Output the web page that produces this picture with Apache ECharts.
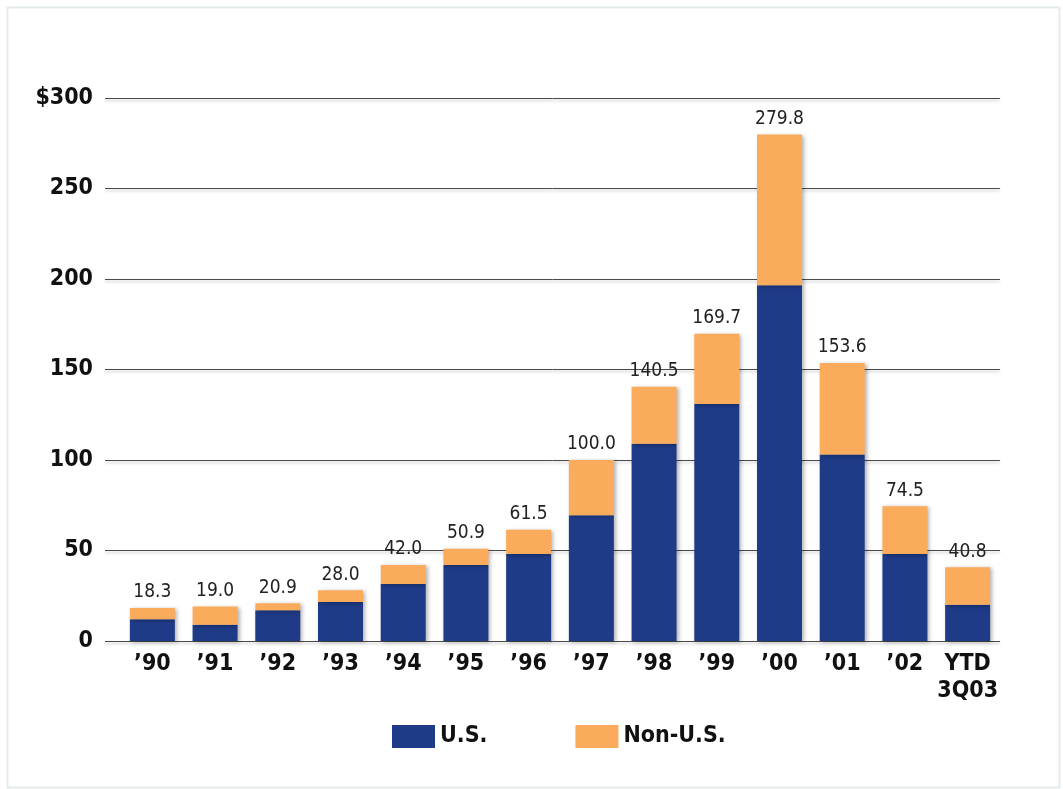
<!DOCTYPE html>
<html>
<head>
<meta charset="utf-8">
<script src="https://cdn.jsdelivr.net/npm/echarts@6/dist/echarts.min.js"></script>
<style>
  html, body { margin: 0; padding: 0; background: #ffffff; }
  #chart { width: 1063px; height: 789px; }
</style>
</head>
<body>
<div id="chart"></div>
<script>
// Annual volume, $ billions: U.S. and non-U.S. portions, plus stated totals
const categories = ['’90', '’91', '’92', '’93', '’94', '’95', '’96', '’97', '’98', '’99', '’00', '’01', '’02', 'YTD\n3Q03'];
const totals = [18.3, 19.0, 20.9, 28.0, 42.0, 50.9, 61.5, 100.0, 140.5, 169.7, 279.8, 153.6, 74.5, 40.8];
const usValues = [12, 9, 17, 21.5, 31.5, 42, 48, 69.5, 109, 131, 196.5, 103, 48, 20];
const nonUsValues = [6.3, 10.0, 3.9, 6.5, 10.5, 8.9, 13.5, 30.5, 31.5, 38.7, 83.3, 50.6, 26.5, 20.8];
const yTicks = [0, 50, 100, 150, 200, 250, 300];

const FONT = '"DejaVu Sans Condensed", "Liberation Sans Narrow", "Open Sans", sans-serif';
const BLUE = '#1f3b87';
const ORANGE = '#fbab5c';

const chart = echarts.init(document.getElementById('chart'), null, { renderer: 'canvas' });

const yMin = yTicks[0];
const yMax = yTicks[yTicks.length - 1];
const yStep = yTicks[1] - yTicks[0];

const barShadow = {
  shadowColor: 'rgba(0,0,0,0.3)',
  shadowBlur: 4,
  shadowOffsetX: 2,
  shadowOffsetY: 1
};

chart.setOption({
  backgroundColor: '#ffffff',
  animation: false,
  graphic: [{
    type: 'rect',
    left: 5, top: 5,
    shape: { width: 1052, height: 780 },
    style: { fill: 'none', stroke: '#e3ebea', lineWidth: 2 },
    silent: true
  }],
  legend: {
    left: 387,
    top: 720,
    itemWidth: 43,
    itemHeight: 23,
    itemGap: 88,
    icon: 'rect',
    textStyle: { fontFamily: FONT, fontWeight: 'bold', fontSize: 23, color: '#111' },
    data: ['U.S.', 'Non-U.S.']
  },
  grid: [
    // grid for the value axis and its guide lines
    { left: 105, right: 63, top: 98, bottom: 148 },
    // grid for the bars
    { left: 121, right: 64, top: 98, bottom: 148 }
  ],
  xAxis: [
    { type: 'category', gridIndex: 0, data: categories, show: false },
    {
      type: 'category',
      gridIndex: 1,
      data: categories,
      axisLine: { show: false },
      axisTick: { show: false },
      axisLabel: {
        fontFamily: FONT,
        fontWeight: 'bold',
        fontSize: 23,
        color: '#111',
        lineHeight: 27,
        margin: 10,
        interval: 0
      }
    }
  ],
  yAxis: [
    {
      type: 'value',
      gridIndex: 0,
      min: yMin,
      max: yMax,
      interval: yStep,
      axisLine: { show: false },
      axisTick: { show: false },
      axisLabel: {
        fontFamily: FONT,
        fontWeight: 'bold',
        fontSize: 23,
        color: '#111',
        margin: 12,
        formatter: v => (v === yMax ? '$' + v : String(v))
      },
      splitLine: {
        lineStyle: {
          color: '#4a4a4a',
          width: 1,
          shadowColor: 'rgba(0,0,0,0.25)',
          shadowBlur: 3,
          shadowOffsetY: 2
        }
      }
    },
    {
      type: 'value',
      gridIndex: 1,
      min: yMin,
      max: yMax,
      interval: yStep,
      show: false,
      splitLine: { show: false }
    }
  ],
  series: [
    {
      name: 'U.S.',
      type: 'bar',
      xAxisIndex: 1,
      yAxisIndex: 1,
      stack: 'total',
      barWidth: 45,
      data: usValues,
      itemStyle: Object.assign({ color: BLUE }, barShadow)
    },
    {
      name: 'Non-U.S.',
      type: 'bar',
      xAxisIndex: 1,
      yAxisIndex: 1,
      stack: 'total',
      barWidth: 45,
      data: nonUsValues,
      itemStyle: Object.assign({ color: ORANGE }, barShadow),
      label: {
        show: true,
        position: 'top',
        distance: 6,
        fontFamily: FONT,
        fontSize: 19,
        color: '#222',
        formatter: p => totals[p.dataIndex].toFixed(1)
      }
    }
  ]
});
</script>
</body>
</html>
